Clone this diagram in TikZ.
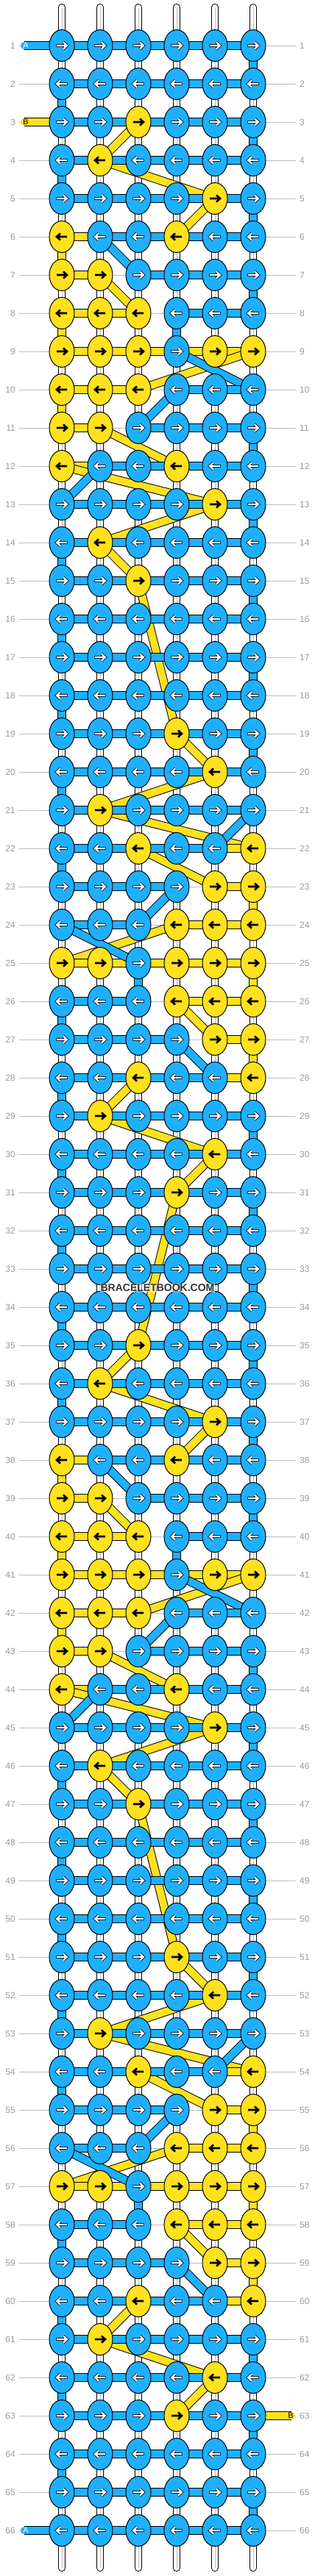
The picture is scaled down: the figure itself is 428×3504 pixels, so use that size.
\documentclass[tikz,border=0pt]{standalone}
\usepackage{fontspec}
\setmainfont{Liberation Sans}
\usetikzlibrary{shapes.geometric}
\definecolor{kblue}{HTML}{1EB0FF}
\definecolor{kyel}{HTML}{FFE11E}
\definecolor{numgray}{HTML}{9A9A9A}
\definecolor{guidegray}{HTML}{BDBDBD}
\definecolor{wmgray}{HTML}{333333}
\def\kSplit#1#2#3#4#5#6\relax#7{%
  \expandafter\xdef\csname kc-#7-1\endcsname{#1}%
  \expandafter\xdef\csname kc-#7-2\endcsname{#2}%
  \expandafter\xdef\csname kc-#7-3\endcsname{#3}%
  \expandafter\xdef\csname kc-#7-4\endcsname{#4}%
  \expandafter\xdef\csname kc-#7-5\endcsname{#5}%
  \expandafter\xdef\csname kc-#7-6\endcsname{#6}}
\newcommand\strandpass[4]{%
  \xdef\prevK{#3}%
  \foreach \rr in {1,...,66}{%
    \foreach \kk in {1,...,6}{%
      \ifodd\rr\relax\edef\cc{\kk}\else\edef\cc{\the\numexpr7-\kk\relax}\fi
      \if #1\csname kc-\rr-\cc\endcsname
        \draw[#2] (\prevK) -- (k-\rr-\cc);
        \xdef\prevK{k-\rr-\cc}%
      \fi
    }%
  }%
  \draw[#2] (\prevK) -- (#4);
}
\tikzset{
  bstr/.style={draw=kblue, line width=10pt, preaction={draw=black, line width=12pt}},
  ystr/.style={draw=kyel, line width=10pt, preaction={draw=black, line width=12pt}},
  wstr/.style={draw=white, line width=8pt, line cap=round, preaction={draw=black, line width=10pt, line cap=round}},
  wcore/.style={draw=guidegray, line width=0.8pt},
  guide/.style={draw=guidegray, line width=1pt},
  knotB/.style={ellipse, draw=black, line width=1pt, fill=kblue, minimum width=34pt, minimum height=43pt, inner sep=0pt},
  knotY/.style={knotB, fill=kyel},
  numL/.style={anchor=east, text=numgray, font=\fontsize{12}{12}\selectfont, inner sep=0pt},
  numR/.style={anchor=west, text=numgray, font=\fontsize{12}{12}\selectfont, inner sep=0pt},
  lab/.style={font=\fontsize{11}{11}\selectfont, inner sep=0pt},
  arrW/.pic={\draw[black, line width=3.8pt] (-7.6,0) -- (6.5,0) (2,-4.6) -- (7,0) -- (2,4.6);
             \draw[white, line width=2.2pt] (-6.8,0) -- (6.5,0) (2,-4.6) -- (7,0) -- (2,4.6);},
  arrK/.pic={\draw[black, line width=2.6pt] (-7,0) -- (6.5,0) (2,-4.6) -- (7,0) -- (2,4.6);},
}
\begin{document}
\begin{tikzpicture}[x=1pt,y=-1pt]
\fill[white] (0,0) rectangle (428,3504);
\useasboundingbox (0,0) rectangle (428,3504);
% knot colour grid
\foreach \s [count=\rr] in {BBBBBB,BBBBBB,BBYBBB,BYBBBB,BBBBYB,YBBYBB,YYBBBB,YYYBBB,YYYBYY,YYYBBB,YYBBBB,YBBYBB,BBBBYB,BYBBBB,BBYBBB,BBBBBB,BBBBBB,BBBBBB,BBBYBB,BBBBYB,BYBBBB,BBYBBY,BBBBYY,BBBYYY,YYBYYY,BBBYYY,BBBBYY,BBYBBY,BYBBBB,BBBBYB,BBBYBB,BBBBBB,BBBBBB,BBBBBB,BBYBBB,BYBBBB,BBBBYB,YBBYBB,YYBBBB,YYYBBB,YYYBYY,YYYBBB,YYBBBB,YBBYBB,BBBBYB,BYBBBB,BBYBBB,BBBBBB,BBBBBB,BBBBBB,BBBYBB,BBBBYB,BYBBBB,BBYBBY,BBBBYY,BBBYYY,YYBYYY,BBBYYY,BBBBYY,BBYBBY,BYBBBB,BBBBYB,BBBYBB,BBBBBB,BBBBBB,BBBBBB}{%
  \expandafter\kSplit\s\relax{\rr}}
% coordinates
\foreach \rr in {1,...,66}{
  \foreach \cc in {1,...,6}{
    \coordinate (k-\rr-\cc) at ({84+52*(\cc-1)},{62+52*(\rr-1)});
  }
}
\coordinate (labA) at (33,62);
\coordinate (labB) at (33,166);
\coordinate (labAe) at (33,3442);
\coordinate (labBe) at (396,3286);
% row guides and numbers
\foreach \rr in {1,...,66}{
  \draw[guide] ({26},{62+52*(\rr-1)}) -- ({402},{62+52*(\rr-1)});
  \node[numL] (ln-\rr) at ({21},{62+52*(\rr-1)}) {\rr};
  \node[numR] (rn-\rr) at ({407},{62+52*(\rr-1)}) {\rr};
}
% white vertical strands
\foreach \cc in {1,...,6}{
  \coordinate (wt-\cc) at ({84+52*(\cc-1)},10);
  \coordinate (wb-\cc) at ({84+52*(\cc-1)},3493);
  \draw[wstr] (wt-\cc) -- (wb-\cc);
  \draw[wcore] (wt-\cc) -- (wb-\cc);
}
% label stubs with round ends
\draw[ystr, line cap=round] (labB) -- (k-3-1);
\draw[ystr, line cap=round] (k-63-6) -- (labBe);
\draw[bstr, line cap=round] (labA) -- (k-1-1);
\draw[bstr, line cap=round] (k-66-1) -- (labAe);
% strand B (yellow) then strand A (blue)
\strandpass{Y}{ystr}{labB}{labBe}
\strandpass{B}{bstr}{labA}{labAe}
% knots
\foreach \rr in {1,...,66}{
  \foreach \cc in {1,...,6}{
    \ifodd\rr\relax\def\dd{1}\else\def\dd{-1}\fi
    \if Y\csname kc-\rr-\cc\endcsname
      \node[knotY] (n-\rr-\cc) at (k-\rr-\cc) {};
      \pic[xscale=\dd] at (k-\rr-\cc) {arrK};
    \else
      \node[knotB] (n-\rr-\cc) at (k-\rr-\cc) {};
      \pic[xscale=\dd] at (k-\rr-\cc) {arrW};
    \fi
  }
}
% strand labels
\node[lab, text=white] (tA1) at (35,62) {A};
\node[lab, text=black] (tB1) at (35,166) {B};
\node[lab, text=white] (tA2) at (35,3442) {A};
\node[lab, text=black] (tB2) at (395,3286) {B};
% watermark
\node[fill=white, fill opacity=0.5, text opacity=1, text=wmgray, inner sep=1pt,
      font=\fontsize{14}{14}\selectfont\bfseries] (wm) at (214,1752) {BRACELETBOOK.COM};
\end{tikzpicture}
\end{document}
